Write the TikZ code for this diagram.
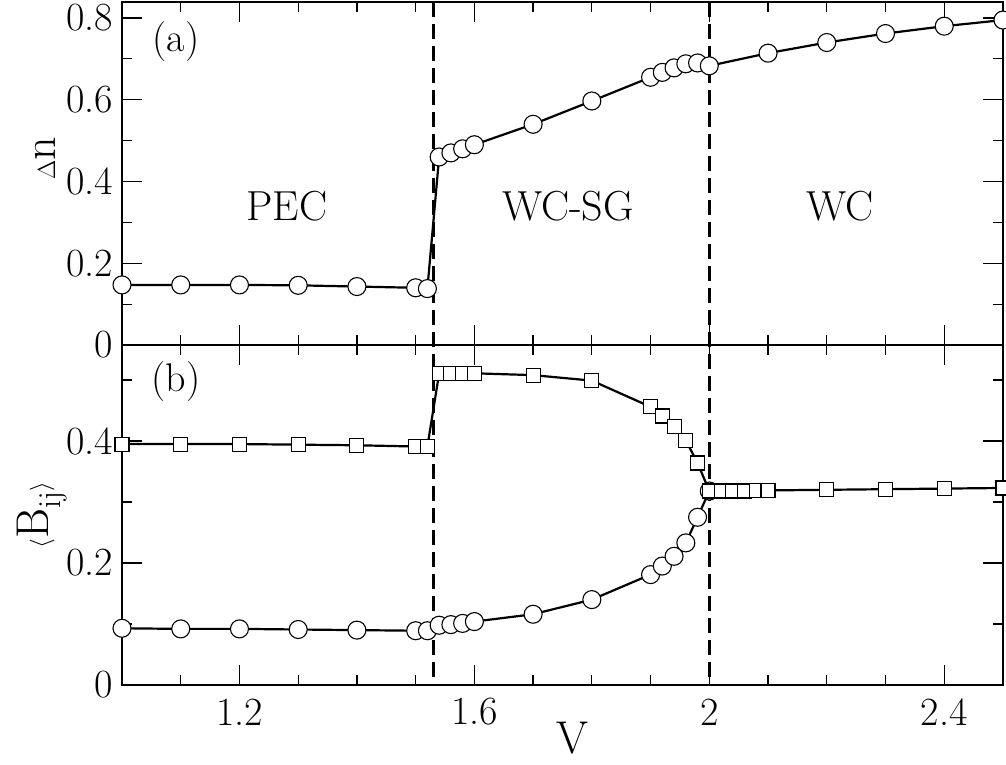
\documentclass[tikz,border=0pt]{standalone}
\begin{document}
\begin{tikzpicture}[x=1pt,y=-1pt,
  circ/.style={circle,draw,fill=white,minimum size=18pt,inner sep=0pt,line width=1.1pt},
  sq/.style={rectangle,draw,fill=white,minimum size=14pt,inner sep=0pt,line width=1.1pt},
  curve/.style={line width=2.2pt},
  lab/.style={font=\fontsize{40}{40}\selectfont,inner sep=0pt},
  vdash/.style={line width=3pt,dash pattern=on 15pt off 7pt}]
\useasboundingbox (0,0) rectangle (1006,764);
% frames
\draw[line width=2pt] (122,2) rectangle (1003,685);
\draw[line width=2pt] (122,345) -- (1003,345);
% x ticks
\foreach \v in {1.1,1.2,...,2.45}{
  \pgfmathsetmacro\px{122+(\v-1)*587.3}
  \foreach \yb/\s in {685/-1,345/1,345/-1,2/1}{
    \draw[line width=1.2pt] (\px,\yb) -- ++(0,\s*10);}
}
\foreach \v in {1.2,1.6,2.0,2.4}{
  \pgfmathsetmacro\px{122+(\v-1)*587.3}
  \foreach \yb/\s in {685/-1,345/1,345/-1,2/1}{
    \draw[line width=1.2pt] (\px,\yb) -- ++(0,\s*20);}
}
\foreach \v/\t in {1.2/1.2,1.6/1.6,2.0/2,2.4/2.4}{
  \pgfmathsetmacro\px{122+(\v-1)*587.3}
  \node[lab] (xl\t) at (\px,712) {\t};}
% y ticks top
\foreach \d in {0.1,0.2,...,0.85}{
  \pgfmathsetmacro\py{345-\d*408.75}
  \draw[line width=1.2pt] (122,\py) -- ++(10,0);
  \draw[line width=1.2pt] (1003,\py) -- ++(-10,0);}
\foreach \d in {0.2,0.4,0.6,0.8}{
  \pgfmathsetmacro\py{345-\d*408.75}
  \draw[line width=1.2pt] (122,\py) -- ++(20,0);
  \draw[line width=1.2pt] (1003,\py) -- ++(-20,0);}
\foreach \d/\t in {0/0,0.2/0.2,0.4/0.4,0.6/0.6,0.8/0.8}{
  \pgfmathsetmacro\py{345-\d*408.75}
  \node[lab,anchor=east] (ya\t) at (113,\py) {\t};}
% y ticks bottom
\foreach \d in {0.1,0.2,...,0.55}{
  \pgfmathsetmacro\py{685-\d*610}
  \draw[line width=1.2pt] (122,\py) -- ++(10,0);
  \draw[line width=1.2pt] (1003,\py) -- ++(-10,0);}
\foreach \d in {0.2,0.4}{
  \pgfmathsetmacro\py{685-\d*610}
  \draw[line width=1.2pt] (122,\py) -- ++(20,0);
  \draw[line width=1.2pt] (1003,\py) -- ++(-20,0);}
\foreach \d/\t in {0/0,0.2/0.2,0.4/0.4}{
  \pgfmathsetmacro\py{685-\d*610}
  \node[lab,anchor=east] (yb\t) at (113,\py) {\t};}
% dashed lines
\coordinate (d1t) at (433,2); \coordinate (d1b) at (433,685);
\coordinate (d2t) at (709,2); \coordinate (d2b) at (709,685);
\draw[vdash] (d1t) -- (d1b);
\draw[vdash] (d2t) -- (d2b);
% top panel
\begin{scope}[shift={(122,345)},x=587.3pt,y=408.75pt]
\def\dataA{0/0.147,0.1/0.147,0.2/0.147,0.3/0.146,0.4/0.143,0.5/0.140,0.52/0.138,0.54/0.46,0.56/0.47,0.58/0.48,0.6/0.49,0.7/0.54,0.8/0.597,0.9/0.655,0.92/0.667,0.94/0.678,0.96/0.688,0.98/0.69,1.0/0.683,1.1/0.714,1.2/0.74,1.3/0.762,1.4/0.78,1.5/0.795}
\draw[curve] plot coordinates {(0,0.147)(0.1,0.147)(0.2,0.147)(0.3,0.146)(0.4,0.143)(0.5,0.140)(0.52,0.138)(0.54,0.46)(0.56,0.47)(0.58,0.48)(0.6,0.49)(0.7,0.54)(0.8,0.597)(0.9,0.655)(0.92,0.667)(0.94,0.678)(0.96,0.688)(0.98,0.69)(1.0,0.683)(1.1,0.714)(1.2,0.74)(1.3,0.762)(1.4,0.78)(1.5,0.795)};
\foreach \a/\b [count=\i] in \dataA { \node[circ] (a\i) at (\a,\b) {}; }
\end{scope}
% bottom panel
\begin{scope}[shift={(122,685)},x=587.3pt,y=610pt]
\def\dataC{0/0.093,0.1/0.092,0.2/0.092,0.3/0.091,0.4/0.090,0.5/0.089,0.52/0.089,0.54/0.098,0.56/0.099,0.58/0.101,0.6/0.104,0.7/0.116,0.8/0.14,0.9/0.181,0.92/0.195,0.94/0.211,0.96/0.233,0.98/0.275,1.0/0.318}
\def\dataS{0/0.395,0.1/0.395,0.2/0.395,0.3/0.394,0.4/0.393,0.5/0.391,0.52/0.391,0.54/0.511,0.56/0.511,0.58/0.511,0.6/0.511,0.7/0.508,0.8/0.499,0.9/0.456,0.92/0.441,0.94/0.424,0.96/0.401,0.98/0.364,1.0/0.318,1.02/0.318,1.04/0.318,1.06/0.318,1.08/0.319,1.1/0.319,1.2/0.32,1.3/0.321,1.4/0.322,1.5/0.323}
\draw[curve] plot coordinates {(0,0.093)(0.1,0.092)(0.2,0.092)(0.3,0.091)(0.4,0.090)(0.5,0.089)(0.52,0.089)(0.54,0.098)(0.56,0.099)(0.58,0.101)(0.6,0.104)(0.7,0.116)(0.8,0.14)(0.9,0.181)(0.92,0.195)(0.94,0.211)(0.96,0.233)(0.98,0.275)(1.0,0.318)};
\draw[curve] plot coordinates {(0,0.395)(0.1,0.395)(0.2,0.395)(0.3,0.394)(0.4,0.393)(0.5,0.391)(0.52,0.391)(0.54,0.511)(0.56,0.511)(0.58,0.511)(0.6,0.511)(0.7,0.508)(0.8,0.499)(0.9,0.456)(0.92,0.441)(0.94,0.424)(0.96,0.401)(0.98,0.364)(1.0,0.318)(1.02,0.318)(1.04,0.318)(1.06,0.318)(1.08,0.319)(1.1,0.319)(1.2,0.32)(1.3,0.321)(1.4,0.322)(1.5,0.323)};
\foreach \a/\b [count=\i] in \dataC { \node[circ] (c\i) at (\a,\b) {}; }
\foreach \a/\b [count=\i] in \dataS { \node[sq] (s\i) at (\a,\b) {}; }
\end{scope}
% labels
\node[lab] (pa) at (176,42) {(a)};
\node[lab] (pb) at (176,382) {(b)};
\node[lab,font=\fontsize{42}{42}\selectfont] (pec) at (287,206) {PEC};
\node[lab,font=\fontsize{42}{42}\selectfont] (wcsg) at (568,206) {WC-SG};
\node[lab,font=\fontsize{42}{42}\selectfont] (wc) at (840,206) {WC};
\node[lab,font=\fontsize{46}{46}\selectfont] (xv) at (572,738) {V};
\node[lab,font=\fontsize{46}{46}\selectfont,rotate=90] (yn) at (45,158) {$\Delta$n};
\node[lab,font=\fontsize{46}{46}\selectfont,rotate=90] (yB) at (42,515) {$\langle$B\textsubscript{ij}$\rangle$};
\end{tikzpicture}
\end{document}
